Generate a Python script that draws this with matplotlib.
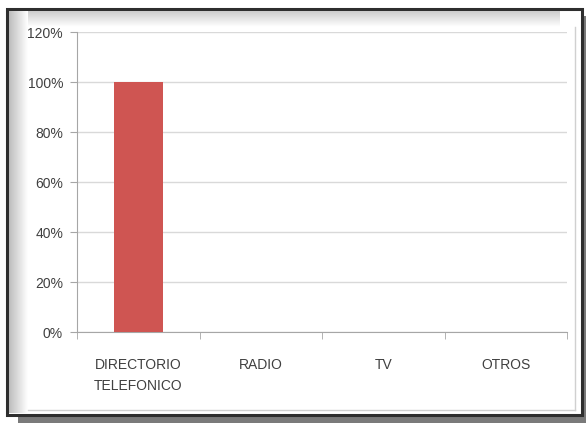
import numpy as np
import matplotlib.pyplot as plt
from matplotlib.patches import Rectangle

categorias = ['DIRECTORIO\nTELEFONICO', 'RADIO', 'TV', 'OTROS']
porcentajes = [100, 0, 0, 0]
ticks_y = [0, 20, 40, 60, 80, 100, 120]

W, H = 586, 423
fig = plt.figure(figsize=(W / 100, H / 100), dpi=100)

# marco con sombra y bisel, en coordenadas de pixel
fondo = fig.add_axes([0, 0, 1, 1], zorder=0)
fondo.axis('off')
fondo.add_patch(Rectangle((18, 16), W - 18, H - 16, facecolor='#7a7a7a', edgecolor='none', zorder=1))
fondo.add_patch(Rectangle((7, 9), 575, 406, facecolor='white', edgecolor='#2e2e2e', linewidth=2.2, zorder=2))
grad_h = np.linspace(0.74, 1.0, 64)[None, :]
fondo.imshow(grad_h, cmap='gray', vmin=0, vmax=1, extent=(9, 28, 413, 11), aspect='auto', zorder=3)
grad_v = np.linspace(0.8, 1.0, 64)[:, None]
fondo.imshow(grad_v, cmap='gray', vmin=0, vmax=1, extent=(28, 560, 27, 11), aspect='auto', zorder=3)
fondo.plot([575, 575], [27, 410], color='#d0d0d0', lw=1, zorder=4)
fondo.plot([28, 575], [410, 410], color='#d0d0d0', lw=1, zorder=4)
fondo.set_xlim(0, W)
fondo.set_ylim(H, 0)

ax = fig.add_axes([77 / W, 1 - 332 / H, 490 / W, 300 / H], zorder=1)
ax.set_facecolor('white')
x = np.arange(len(categorias))
ax.bar(x, porcentajes, width=0.4, color='#cf5552', zorder=3)

ax.set_xlim(-0.5, len(categorias) - 0.5)
ax.set_ylim(0, 120)
ax.set_yticks(ticks_y)
ax.set_yticklabels([f'{v}%' for v in ticks_y])
ax.yaxis.grid(True, color='#d9d9d9', linewidth=1, zorder=0)

ax.set_xticks(x)
ax.set_xticklabels(categorias)
ax.set_xticks(np.arange(len(categorias) + 1) - 0.5, minor=True)
ax.tick_params(axis='x', which='major', length=0, pad=19)
ax.tick_params(axis='x', which='minor', length=5, color='#a6a6a6', direction='out')
ax.tick_params(axis='y', length=5, color='#a6a6a6', pad=5)

for lab in ax.get_xticklabels() + ax.get_yticklabels():
    lab.set_family('Liberation Sans')
    lab.set_fontsize(10)
    lab.set_color('#404040')
for lab in ax.get_xticklabels():
    lab.set_linespacing(1.6)

for lado in ['top', 'right']:
    ax.spines[lado].set_visible(False)
for lado in ['left', 'bottom']:
    ax.spines[lado].set_color('#a6a6a6')

fig.savefig('out.png', dpi=100)
